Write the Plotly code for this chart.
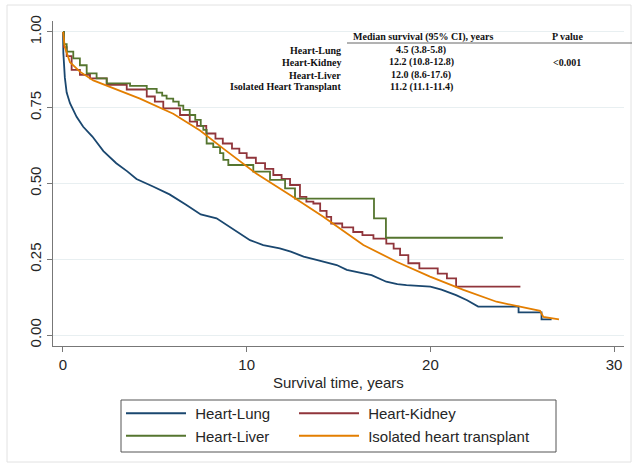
import plotly.graph_objects as go

# ---------------- data ----------------
lung_t = [0, 0.02, 0.1, 0.2, 0.38, 0.74, 1.1, 1.6, 2.2, 2.9, 3.5, 4.0, 4.9, 5.8, 6.7, 7.5,
          8.36, 9.09, 10.18, 10.9, 11.8, 12.4, 13.1, 13.8, 14.9, 15.45, 16.3, 16.8, 17.6,
          18.2, 18.7, 20.0, 20.6, 21.4, 22.0, 22.6, 24.8, 24.8, 26.05, 26.05, 26.6]
lung_s = [1.0, 0.93, 0.85, 0.80, 0.765, 0.72, 0.687, 0.655, 0.607, 0.567, 0.54, 0.515, 0.49,
          0.464, 0.43, 0.398, 0.385, 0.357, 0.313, 0.297, 0.286, 0.275, 0.259, 0.248, 0.231,
          0.215, 0.205, 0.198, 0.176, 0.168, 0.165, 0.16, 0.15, 0.132, 0.115, 0.094, 0.094,
          0.075, 0.075, 0.052, 0.052]

kidney_t = [0, 0.05, 0.2, 0.47, 0.92, 1.47, 2.38, 3.47, 4.56, 5.0, 5.46, 6.37, 6.9, 7.3, 7.8,
            8.3, 8.7, 9.2, 9.6, 10.0, 10.5, 11.0, 11.45, 11.9, 12.36, 12.9, 13.25, 13.63,
            14.0, 14.35, 14.6, 15.2, 15.8, 16.3, 16.9, 17.6, 18.0, 18.35, 18.8, 19.4, 20.4,
            20.9, 21.4, 24.9]
kidney_s = [1.0, 0.95, 0.92, 0.875, 0.858, 0.847, 0.825, 0.81, 0.787, 0.77, 0.748, 0.726,
            0.704, 0.69, 0.665, 0.648, 0.632, 0.615, 0.60, 0.585, 0.567, 0.548, 0.528, 0.515,
            0.495, 0.456, 0.44, 0.434, 0.41, 0.39, 0.368, 0.355, 0.34, 0.33, 0.318, 0.302,
            0.285, 0.264, 0.237, 0.22, 0.203, 0.187, 0.16, 0.16]

liver_t = [0, 0.05, 0.2, 0.56, 0.92, 1.29, 1.83, 2.38, 3.65, 4.56, 5.1, 5.4, 5.64, 6.0, 6.3,
           6.55, 6.9, 7.2, 7.5, 7.64, 7.82, 8.18, 8.55, 8.73, 9.0, 10.36, 11.27, 12.09, 12.63,
           16.93, 17.58, 23.95]
liver_s = [1.0, 0.96, 0.935, 0.913, 0.89, 0.863, 0.847, 0.83, 0.822, 0.812, 0.80, 0.79, 0.78,
           0.77, 0.757, 0.743, 0.726, 0.71, 0.69, 0.677, 0.632, 0.62, 0.60, 0.578, 0.561,
           0.539, 0.512, 0.484, 0.45, 0.385, 0.321, 0.321]

iso_t = [0, 0.1, 0.38, 0.92, 1.65, 2.38, 4.19, 6.0, 7.46, 8.73, 10.54, 12.36, 14.17, 16.35,
         18.16, 19.98, 21.8, 23.6, 24.7, 25.97, 26.15, 27.0]
iso_s = [1.0, 0.95, 0.90, 0.869, 0.84, 0.822, 0.78, 0.73, 0.675, 0.615, 0.532, 0.462, 0.39,
         0.297, 0.242, 0.193, 0.149, 0.11, 0.096, 0.08, 0.06, 0.052]

series_names = ["Heart-Lung", "Heart-Kidney", "Heart-Liver", "Isolated heart transplant"]
series_colors = ["#1a476f", "#90353b", "#55752f", "#e37e00"]
series_legend = ["legend", "legend2", "legend", "legend2"]

x_ticks = [0, 10, 20, 30]
y_ticks = [0, 0.25, 0.5, 0.75, 1.0]

table_rows = ["Heart-Lung", "Heart-Kidney", "Heart-Liver", "Isolated Heart Transplant"]
table_medians = ["4.5 (3.8-5.8)", "12.2 (10.8-12.8)", "12.0 (8.6-17.6)", "11.2 (11.1-11.4)"]
p_value = "<0.001"

# ---------------- figure ----------------
W, H = 632, 472
ML, MR, MT, MB = 53, 8, 21, 126
PW, PH = W - ML - MR, H - MT - MB


def px(xp):
    return (xp - ML) / PW


def py(yp):
    return (H - MB - yp) / PH


fig = go.Figure()
data = [(lung_t, lung_s, "linear"), (kidney_t, kidney_s, "hv"),
        (liver_t, liver_s, "hv"), (iso_t, iso_s, "linear")]
for (t, s, shape), name, col, lg in zip(data, series_names, series_colors, series_legend):
    fig.add_trace(go.Scatter(x=t, y=s, mode="lines", name="&nbsp;" + name, legend=lg,
                             line=dict(color=col, width=1.8, shape=shape)))

leg_common = dict(orientation="v", xanchor="left", yanchor="top", y=py(397),
                  borderwidth=0, itemwidth=60, font=dict(size=15),
                  bgcolor="rgba(0,0,0,0)", tracegroupgap=0)
fig.update_layout(
    width=W, height=H,
    margin=dict(l=ML, r=MR, t=MT, b=MB, autoexpand=False),
    plot_bgcolor="white", paper_bgcolor="white",
    font=dict(family="Liberation Sans, Arial, sans-serif", size=15, color="#262626"),
    showlegend=True,
    legend=dict(x=px(121), **leg_common),
    legend2=dict(x=px(294), **leg_common),
)
fig.update_xaxes(range=[-0.544, 30.54], tickvals=x_ticks, ticks="outside", ticklen=5,
                 tickcolor="#777", showline=True, linecolor="#777", linewidth=1,
                 showgrid=False, zeroline=False)
fig.update_yaxes(range=[-0.036, 1.036], tickvals=y_ticks, tickformat=".2f", tickangle=-90,
                 ticks="outside", ticklen=5, tickcolor="#777", showline=True,
                 linecolor="#777", linewidth=1, showgrid=True, gridcolor="#e8eff1",
                 gridwidth=1, zeroline=False)

annots = []
annots.append(dict(text="Survival time, years", x=px(338), y=py(382), xref="paper", yref="paper",
                   showarrow=False, font=dict(size=15), xanchor="center", yanchor="middle"))
serif = dict(family="Liberation Serif, Times New Roman, serif", size=10, color="#111")
annots.append(dict(text="<b>Median survival (95% CI), years</b>", x=px(423), y=py(37),
                   xref="paper", yref="paper", showarrow=False, font=serif,
                   xanchor="center", yanchor="middle"))
annots.append(dict(text="<b>P value</b>", x=px(567), y=py(37), xref="paper", yref="paper",
                   showarrow=False, font=serif, xanchor="center", yanchor="middle"))
row_y = [50, 62, 75, 87]
for lab, med, yy in zip(table_rows, table_medians, row_y):
    annots.append(dict(text="<b>%s</b>" % lab, x=px(343), y=py(yy), xref="paper", yref="paper",
                       showarrow=False, font=serif, xanchor="right", yanchor="middle"))
    annots.append(dict(text="<b>%s</b>" % med, x=px(421), y=py(yy), xref="paper", yref="paper",
                       showarrow=False, font=serif, xanchor="center", yanchor="middle"))
annots.append(dict(text="<b>%s</b>" % p_value.replace("<", "&lt;"), x=px(567), y=py(62),
                   xref="paper", yref="paper", showarrow=False, font=serif,
                   xanchor="center", yanchor="middle"))
fig.update_layout(annotations=annots)

shapes = [
    dict(type="line", xref="paper", yref="paper", x0=px(347), x1=px(632), y0=py(43), y1=py(43),
         line=dict(color="#666", width=1)),
    dict(type="rect", xref="paper", yref="paper", x0=px(7), x1=px(631), y0=py(5), y1=py(462),
         line=dict(color="#e2e2e2", width=1), layer="below"),
    dict(type="rect", xref="paper", yref="paper", x0=px(121), x1=px(556), y0=py(400), y1=py(452),
         line=dict(color="#555555", width=1), layer="below"),
]
fig.update_layout(shapes=shapes)

fig.write_html("out.html", config={"displayModeBar": False},
               post_script="document.body.style.margin='0px';"
                           "document.documentElement.style.overflow='hidden';")
